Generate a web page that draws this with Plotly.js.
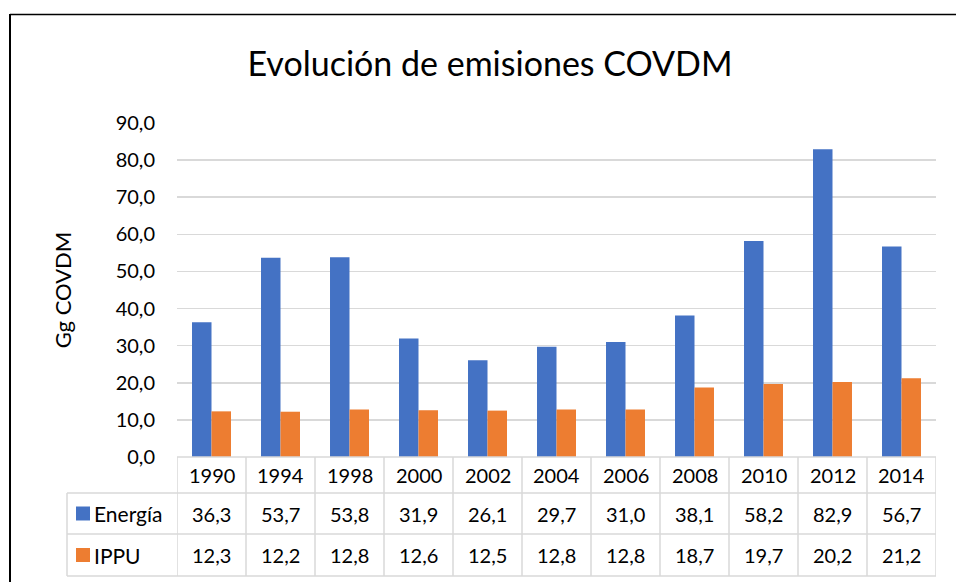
<!DOCTYPE html>
<html><head><meta charset="utf-8">
<script src="https://cdn.plot.ly/plotly-3.0.1.min.js"></script>
<style>html,body{margin:0;padding:0;background:#fff}#c{width:956px;height:582px}</style>
</head><body><div id="c"></div>
<script>
const years = ['1990','1994','1998','2000','2002','2004','2006','2008','2010','2012','2014'];
const energia = [36.3,53.7,53.8,31.9,26.1,29.7,31.0,38.1,58.2,82.9,56.7];
const ippu = [12.3,12.2,12.8,12.6,12.5,12.8,12.8,18.7,19.7,20.2,21.2];
const seriesNames = ['Energía','IPPU'];
const colors = ['#4472C4','#ED7D31'];

const W=956,H=582,L=177,R=936,T=123,B=457;
const pw=R-L, ph=B-T;
const px=x=>(x-L)/pw, py=y=>(B-y)/ph;
const FONT='Lato, "Open Sans", sans-serif';
const grid='#D9D9D9';
const fmt=v=>v.toFixed(1).replace('.',',');
const n=years.length;

const traces=[energia,ippu].map((vals,i)=>({type:'bar',x:years,y:vals,name:seriesNames[i],marker:{color:colors[i]},hoverinfo:'none'}));

const shapes=[], ann=[];
const rows=[457,493,534,576];
shapes.push({type:'line',xref:'paper',yref:'paper',x0:0,x1:1,y0:py(rows[0]),y1:py(rows[0]),line:{color:grid,width:1.5}});
for(let k=1;k<4;k++) shapes.push({type:'line',xref:'paper',yref:'paper',x0:px(67),x1:1,y0:py(rows[k]),y1:py(rows[k]),line:{color:grid,width:1.5}});
shapes.push({type:'line',xref:'paper',yref:'paper',x0:px(67),x1:px(67),y0:py(rows[1]),y1:py(rows[3]),line:{color:grid,width:1.5}});
for(let i=0;i<=n;i++){
  shapes.push({type:'line',xref:'x',yref:'paper',x0:i-0.5,x1:i-0.5,y0:py(rows[0]),y1:py(rows[3]),line:{color:grid,width:1.5}});
}
const TF={family:FONT,size:20,color:'#000'};
years.forEach((yr,i)=>{
  ann.push({xref:'x',yref:'paper',x:i,y:py((rows[0]+rows[1])/2),text:yr,showarrow:false,font:TF,xanchor:'center',yanchor:'middle'});
});
[energia,ippu].forEach((vals,s)=>{
  const yp=(rows[s+1]+rows[s+2])/2, yc=py(yp);
  vals.forEach((v,i)=>{
    ann.push({xref:'x',yref:'paper',x:i,y:yc,text:fmt(v),showarrow:false,font:TF,xanchor:'center',yanchor:'middle'});
  });
  shapes.push({type:'rect',xref:'paper',yref:'paper',x0:px(76),x1:px(90),y0:py(yp+7),y1:py(yp-7),fillcolor:colors[s],line:{width:0}});
  ann.push({xref:'paper',yref:'paper',x:px(92),y:yc,text:seriesNames[s],showarrow:false,font:{family:FONT,size:21,color:'#000'},xanchor:'left',yanchor:'middle'});
});
shapes.push({type:'line',xref:'paper',yref:'paper',x0:px(10),x1:px(960),y0:py(14.5),y1:py(14.5),line:{color:'#000',width:1.5}});
shapes.push({type:'line',xref:'paper',yref:'paper',x0:px(10),x1:px(10),y0:py(14),y1:py(590),line:{color:'#000',width:2}});

const layout={
  width:W,height:H,margin:{l:L,r:W-R,t:T,b:H-B},
  paper_bgcolor:'#fff',plot_bgcolor:'#fff',
  separators:',.',
  showlegend:false,
  barmode:'group',bargap:0.435,bargroupgap:0,
  title:{text:'Evolución de emisiones COVDM',font:{family:FONT,size:34,color:'#000'},x:490/W,xanchor:'center',y:1-64/H,yanchor:'middle',yref:'container'},
  xaxis:{type:'category',range:[-0.5,n-0.5],autorange:false,showticklabels:false,showgrid:false,zeroline:false,showline:false,ticks:''},
  yaxis:{range:[0,90],autorange:false,dtick:10,tickformat:'.1f',showgrid:true,gridcolor:grid,gridwidth:1.5,zeroline:false,showline:false,
    tickfont:{family:FONT,size:20,color:'#000'},ticklabelstandoff:21,
    title:{text:'Gg COVDM',font:{family:FONT,size:22,color:'#000'},standoff:37}},
  shapes:shapes,annotations:ann
};
Plotly.newPlot('c',traces,layout,{staticPlot:true});
</script></body></html>
